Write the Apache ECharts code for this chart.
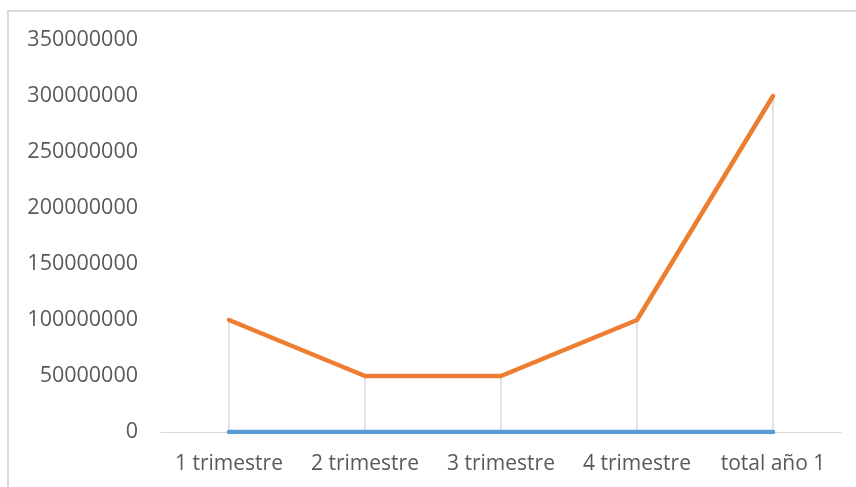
<!DOCTYPE html>
<html>
<head>
<meta charset="utf-8">
<script src="https://cdn.jsdelivr.net/npm/echarts@6/dist/echarts.min.js"></script>
<style>
html,body{margin:0;padding:0;background:#fff;}
#c{width:856px;height:487px;}
</style>
</head>
<body>
<div id="c"></div>
<script>
var categories = ['1 trimestre', '2 trimestre', '3 trimestre', '4 trimestre', 'total año 1'];
var serieAzul = [0, 0, 0, 0, 0];
var serieNaranja = [100000000, 50000000, 50000000, 100000000, 300000000];
var yMin = 0, yMax = 350000000, yInterval = 50000000;

var chart = echarts.init(document.getElementById('c'), null, {renderer: 'canvas'});
var font = '"Open Sans", Lato, sans-serif';
chart.setOption({
  animation: false,
  backgroundColor: '#ffffff',
  grid: {left: 161, right: 15, top: 40, bottom: 55, containLabel: false},
  graphic: [{
    type: 'rect', silent: true, z: -1,
    shape: {x: 8, y: 11, width: 900, height: 500},
    style: {fill: 'none', stroke: '#d9d9d9', lineWidth: 2}
  }],
  xAxis: {
    type: 'category',
    data: categories,
    boundaryGap: true,
    axisLine: {show: true, lineStyle: {color: '#d9d9d9', width: 1}},
    axisTick: {show: false},
    splitLine: {show: false},
    axisLabel: {color: '#595959', fontSize: 21, fontFamily: font, margin: 22, interval: 0, hideOverlap: false}
  },
  yAxis: {
    type: 'value',
    min: yMin, max: yMax, interval: yInterval,
    axisLine: {show: false},
    axisTick: {show: false},
    splitLine: {show: false},
    axisLabel: {
      color: '#595959', fontSize: 21.5, fontFamily: font, margin: 23,
      formatter: function (v) { return String(v); }
    }
  },
  series: [
    {
      name: 'drop', type: 'bar', data: serieNaranja, barWidth: 1.5, silent: true,
      itemStyle: {color: '#d9d9d9'}, z: 1
    },
    {
      name: 'Serie1', type: 'line', data: serieAzul, symbol: 'none',
      lineStyle: {color: '#5B9BD5', width: 4.5, cap: 'round'}, z: 3
    },
    {
      name: 'Serie2', type: 'line', data: serieNaranja, symbol: 'none',
      lineStyle: {color: '#ED7D31', width: 4.5, cap: 'round', join: 'round'}, z: 4
    }
  ]
});
</script>
</body>
</html>
